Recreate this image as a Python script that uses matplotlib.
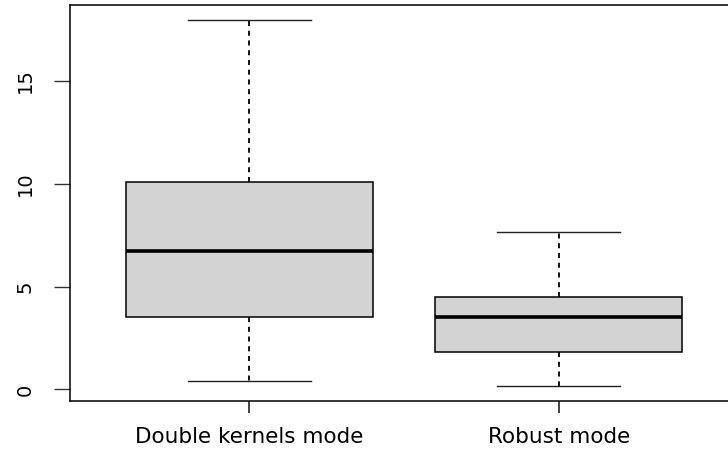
import matplotlib
matplotlib.use('Agg')
import matplotlib.pyplot as plt

plt.rcParams['font.family'] = ['DejaVu Sans']

# box statistics
labels = ['Double kernels mode', 'Robust mode']
whislo = [0.39, 0.15]
q1 = [3.5, 1.8]
med = [6.7, 3.5]
q3 = [10.07, 4.47]
whishi = [17.96, 7.67]
yticks = [0, 5, 10, 15]

stats = [
    {'label': labels[i], 'whislo': whislo[i], 'q1': q1[i], 'med': med[i],
     'q3': q3[i], 'whishi': whishi[i], 'fliers': []}
    for i in range(len(labels))
]

fig = plt.figure(figsize=(7.28, 4.5), dpi=100)
ax = fig.add_axes([70 / 728, 49 / 450, 668 / 728, 396 / 450])

ax.bxp(stats, positions=[1, 2], widths=0.8, patch_artist=True,
       showfliers=False,
       boxprops=dict(facecolor='#D3D3D3', edgecolor='black', linewidth=1.1),
       medianprops=dict(color='black', linewidth=2.6, solid_capstyle='butt'),
       whiskerprops=dict(color='black', linewidth=1.3, linestyle=(0, (2.8, 2.6))),
       capprops=dict(color='#222222', linewidth=1.0),
       capwidths=0.4)

ax.set_xlim(0.42, 2.58)
ax.set_ylim(-0.56, 18.67)

ax.set_yticks(yticks)
ax.set_yticklabels([str(t) for t in yticks], rotation=90, va='center', fontsize=14)
ax.set_xticks([1, 2])
ax.set_xticklabels(labels, fontsize=15.5)
ax.tick_params(axis='y', length=11.5, width=1, pad=14, color='#333333')
ax.tick_params(axis='x', length=8.6, width=1.3, pad=10, color='#333333')

for s in ['left', 'top', 'bottom', 'right']:
    ax.spines[s].set_linewidth(1.1)
    ax.spines[s].set_color('black')

fig.savefig('out.png', dpi=100)
